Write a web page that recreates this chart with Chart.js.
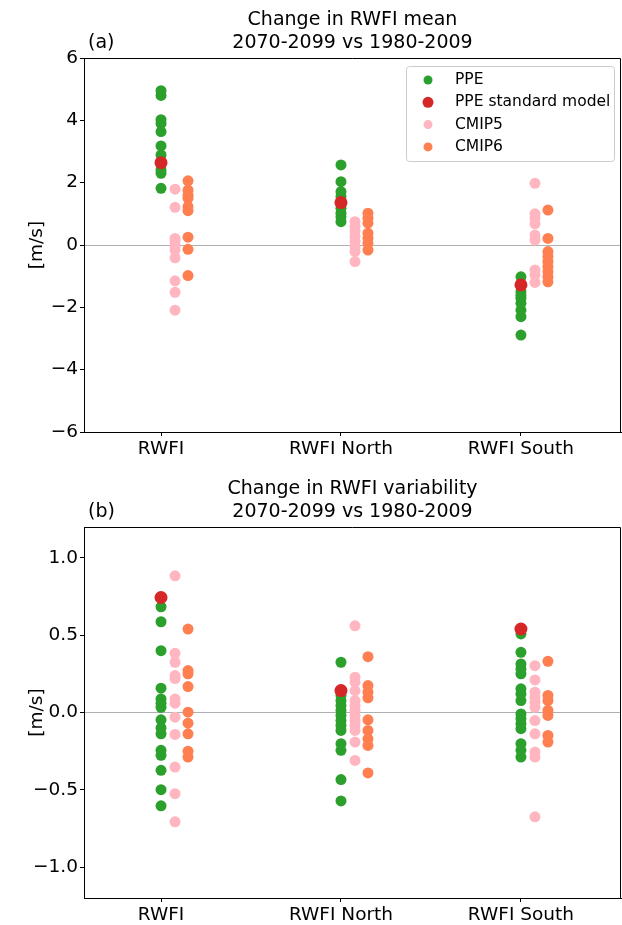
<!DOCTYPE html>
<html>
<head>
<meta charset="utf-8">
<script src="https://cdn.jsdelivr.net/npm/chart.js@4.4.1/dist/chart.umd.min.js"></script>
<style>
  body { margin: 0; background: #fff; }
  canvas { display: block; }
</style>
</head>
<body>
<canvas id="meanChart" width="622" height="462"></canvas>
<canvas id="varChart" width="622" height="463"></canvas>
<script>
// Categories and series (one inner array per region)
const categories = ["RWFI", "RWFI North", "RWFI South"];
const seriesNames = ["PPE", "PPE standard model", "CMIP5", "CMIP6"];

// (a) change in mean [m/s]
const meanPPE = [
  [4.95, 4.8, 4.02, 3.9, 3.64, 3.18, 2.89, 2.41, 2.3, 1.82],
  [2.57, 2.03, 1.71, 1.55, 1.18, 1.02, 0.91, 0.75],
  [-1.02, -1.5, -1.62, -1.71, -1.87, -2.09, -2.3, -2.89],
];
const meanStandard = [2.64, 1.36, -1.28];
const meanCMIP5 = [
  [1.79, 1.21, 0.21, 0.11, -0.03, -0.16, -0.41, -1.15, -1.52, -2.09],
  [0.75, 0.59, 0.43, 0.27, 0.11, -0.05, -0.21, -0.53],
  [1.98, 1.0, 0.86, 0.68, 0.32, 0.16, -0.8, -0.96, -1.2],
];
const meanCMIP6 = [
  [2.06, 1.76, 1.6, 1.5, 1.23, 1.1, 0.25, -0.14, -0.98],
  [1.02, 0.86, 0.7, 0.38, 0.22, 0.06, -0.16],
  [1.12, 0.21, -0.21, -0.37, -0.53, -0.7, -0.86, -1.02, -1.18],
];

// (b) change in variability [m/s]
const varPPE = [
  [0.684, 0.587, 0.4, 0.157, 0.088, 0.06, 0.034, -0.047, -0.1, -0.138, -0.245, -0.277, -0.374, -0.499, -0.604],
  [0.325, 0.11, 0.077, 0.045, 0.013, -0.019, -0.052, -0.084, -0.116, -0.202, -0.245, -0.434, -0.572],
  [0.508, 0.389, 0.314, 0.282, 0.25, 0.153, 0.12, 0.077, -0.009, -0.041, -0.073, -0.105, -0.202, -0.245, -0.288],
];
const varStandard = [0.744, 0.142, 0.54];
const varCMIP5 = [
  [0.884, 0.383, 0.325, 0.239, 0.22, 0.088, 0.06, -0.03, -0.142, -0.353, -0.525, -0.707],
  [0.561, 0.228, 0.196, 0.142, 0.077, 0.045, 0.013, -0.019, -0.052, -0.084, -0.116, -0.191, -0.31],
  [0.303, 0.211, 0.131, 0.099, 0.067, 0.034, -0.052, -0.138, -0.256, -0.288, -0.675],
];
const varCMIP6 = [
  [0.54, 0.271, 0.25, 0.168, 0.002, -0.069, -0.138, -0.25, -0.288],
  [0.361, 0.174, 0.131, 0.095, -0.047, -0.116, -0.17, -0.213, -0.391],
  [0.331, 0.11, 0.077, 0.013, -0.019, -0.148, -0.191],
];

const meanTicks = [-6, -4, -2, 0, 2, 4, 6];
const varTicks = [-1.0, -0.5, 0.0, 0.5, 1.0];

const colors = ["#2ca02c", "#d62728", "#ffb6c1", "#ff7f50"];
const FONT = "'DejaVu Sans', sans-serif";

function toPoints(groups, offset) {
  return groups.flatMap((vals, i) => vals.map(v => ({ x: i + offset, y: v })));
}
const minus = s => String(s).replace("-", "\u2212");

// titles, frame, y label and legend
const decoPlugin = {
  id: "deco",
  afterDraw(chart, args, opts) {
    const { ctx, chartArea: a } = chart;
    ctx.save();
    ctx.strokeStyle = "#000";
    ctx.lineWidth = 1;
    ctx.beginPath();
    ctx.moveTo(a.left, a.top + 0.5);
    ctx.lineTo(a.right - 0.5, a.top + 0.5);
    ctx.lineTo(a.right - 0.5, a.bottom);
    ctx.stroke();

    ctx.fillStyle = "#000";
    ctx.textBaseline = "middle";
    ctx.font = "19px " + FONT;
    ctx.textAlign = "center";
    const cx = (a.left + a.right) / 2;
    ctx.fillText(opts.title[0], cx, a.top - 38);
    ctx.fillText(opts.title[1], cx, a.top - 15);
    ctx.textAlign = "left";
    ctx.fillText(opts.letter, a.left + 4, a.top - 15);

    ctx.save();
    ctx.translate(37, (a.top + a.bottom) / 2);
    ctx.rotate(-Math.PI / 2);
    ctx.textAlign = "center";
    ctx.font = "18.5px " + FONT;
    ctx.fillText("[m/s]", 0, 0);
    ctx.restore();

    if (opts.legend) {
      const x0 = a.right - 215, y0 = a.top + 8, w = 208, h = 95;
      ctx.fillStyle = "rgba(255,255,255,0.8)";
      ctx.strokeStyle = "#cccccc";
      ctx.beginPath();
      ctx.roundRect(x0 + 0.5, y0 + 0.5, w, h, 3);
      ctx.fill();
      ctx.stroke();
      ctx.font = "15.5px " + FONT;
      chart.data.datasets.forEach((ds, i) => {
        const y = y0 + 14 + i * 22.3;
        ctx.fillStyle = ds.backgroundColor;
        ctx.beginPath();
        ctx.arc(x0 + 22, y, ds.pointRadius - 1, 0, Math.PI * 2);
        ctx.fill();
        ctx.fillStyle = "#000";
        ctx.fillText(ds.label, x0 + 49, y);
      });
    }
    ctx.restore();
  },
};

function makeChart(id, ppe, std, c5, c6, yMin, yMax, yTicks, fmt, deco, plotTop, xHeight) {
  const datasets = [
    { label: seriesNames[0], data: toPoints(ppe, 0), backgroundColor: colors[0], pointRadius: 5.5, order: 2 },
    { label: seriesNames[1], data: std.map((v, i) => ({ x: i, y: v })), backgroundColor: colors[1], pointRadius: 6.5, order: 1 },
    { label: seriesNames[2], data: toPoints(c5, 0.078), backgroundColor: colors[2], pointRadius: 5.5, order: 1 },
    { label: seriesNames[3], data: toPoints(c6, 0.15), backgroundColor: colors[3], pointRadius: 5.5, order: 1 },
  ];
  datasets.forEach(ds => { ds.borderWidth = 0; ds.hoverRadius = ds.pointRadius; });

  return new Chart(document.getElementById(id).getContext("2d"), {
    type: "scatter",
    data: { datasets },
    plugins: [decoPlugin],
    options: {
      responsive: false,
      animation: false,
      layout: { autoPadding: false, padding: { top: plotTop, right: 1, left: 0, bottom: 0 } },
      plugins: {
        legend: { display: false },
        tooltip: { enabled: false },
        deco: deco,
      },
      scales: {
        x: {
          type: "linear",
          min: -0.428,
          max: 2.556,
          afterBuildTicks: s => { s.ticks = categories.map((c, i) => ({ value: i })); },
          afterFit: s => { s.height = xHeight; s.paddingLeft = 0; s.paddingRight = 0; },
          ticks: {
            callback: v => categories[v],
            color: "#000",
            font: { family: FONT, size: 18.5 },
            padding: 2,
            maxRotation: 0,
          },
          grid: { color: "transparent", tickColor: "#000", tickLength: 4 },
          border: { display: true, color: "#000", width: 1 },
        },
        y: {
          min: yMin,
          max: yMax,
          afterBuildTicks: s => { s.ticks = yTicks.map(v => ({ value: v })); },
          afterFit: s => { s.width = 84; s.paddingTop = 0; s.paddingBottom = 0; },
          ticks: {
            callback: v => minus(fmt(v)),
            color: "#000",
            font: { family: FONT, size: 18.5 },
            padding: 2,
          },
          grid: {
            color: c => (c.tick && c.tick.value === 0 ? "#b0b0b0" : "transparent"),
            tickColor: "#000",
            tickLength: 4,
          },
          border: { display: true, color: "#000", width: 1 },
        },
      },
    },
  });
}

document.addEventListener("DOMContentLoaded", function () {
  makeChart("meanChart", meanPPE, meanStandard, meanCMIP5, meanCMIP6, -6, 6, meanTicks,
    v => String(v),
    { title: ["Change in RWFI mean", "2070-2099 vs 1980-2009"], letter: "(a)", legend: true },
    58, 30);
  makeChart("varChart", varPPE, varStandard, varCMIP5, varCMIP6, -1.2, 1.2, varTicks,
    v => v.toFixed(1),
    { title: ["Change in RWFI variability", "2070-2099 vs 1980-2009"], letter: "(b)", legend: false },
    65, 27);
});
</script>
</body>
</html>
